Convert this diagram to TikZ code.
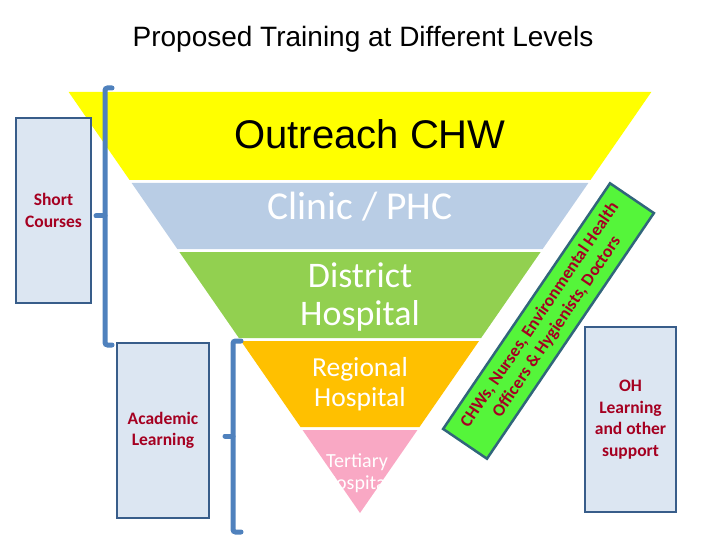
\documentclass[tikz,border=0pt]{standalone}
\usepackage{fontspec}
\setmainfont{Liberation Sans}
\newfontfamily\calib{Carlito}
\definecolor{yel}{HTML}{FFFF00}
\definecolor{bandblue}{HTML}{B9CDE5}
\definecolor{bandgreen}{HTML}{92D050}
\definecolor{bandorange}{HTML}{FFC000}
\definecolor{bandpink}{HTML}{F9A8C4}
\definecolor{brk}{HTML}{4F81BD}
\definecolor{boxfill}{HTML}{DCE6F2}
\definecolor{boxline}{HTML}{385D8A}
\definecolor{txtred}{HTML}{A50021}
\definecolor{limegreen}{HTML}{55F53A}
\definecolor{tealline}{HTML}{31657B}
\newcommand{\bandpath}[3]{%
  \fill[#3] ({360-0.692*(513-#1)},#1) -- ({360+0.692*(513-#1)},#1) --
    ({360+0.692*(513-#2)},#2) -- ({360-0.692*(513-#2)},#2) -- cycle;}
\tikzset{
  sidebox/.style={draw=boxline, line width=2.5pt, fill=boxfill, inner sep=0pt,
    text=txtred, font=\calib\bfseries\fontsize{17.5}{21.5}\selectfont, align=center},
  bracket/.style={draw=brk, line width=5pt, rounded corners=2.5pt, line cap=round},
  bandtext/.style={text=white, align=center},
}
\begin{document}
\begin{tikzpicture}[x=1pt,y=-1pt]
\path[use as bounding box] (0,0) rectangle (720,540);
% title
\node[font=\fontsize{28}{32}\selectfont] (title) at (363,39) {Proposed Training at Different Levels};
% pyramid bands
\bandpath{92}{180}{yel}
\bandpath{183}{249}{bandblue}
\bandpath{252}{338}{bandgreen}
\bandpath{341}{427}{bandorange}
\fill[bandpink] ({360-0.692*83},430) -- ({360+0.692*83},430) -- (360,513) -- cycle;
% band texts
\node[font=\fontsize{40}{44}\selectfont] (outreach) at (370,134) {Outreach CHW};
\node[bandtext, font=\calib\fontsize{39.5}{42}\selectfont] (clinic) at (360,207) {Clinic / PHC};
\node[bandtext, font=\calib\fontsize{36}{38}\selectfont] (district) at (360,297) {District\\Hospital};
\node[bandtext, font=\calib\fontsize{27.5}{29.5}\selectfont] (regional) at (360,384) {Regional\\Hospital};
\node[bandtext, font=\calib\fontsize{20}{22}\selectfont] (tertiary) at (357,473) {Tertiary\\Hospital};
% side boxes
\node[sidebox, minimum width=75pt, minimum height=185pt] (short) at (53.5,210.5) {Short\\Courses};
\node[sidebox, minimum width=92pt, minimum height=175pt, font=\calib\bfseries\fontsize{17.5}{20.5}\selectfont] (academic) at (163,430.5) {Academic\\Learning};
\node[sidebox, minimum width=91pt, minimum height=185pt] (oh) at (630.5,419.5) {OH\\Learning\\and other\\support};
% rotated green box
\node[draw=tealline, line width=2.5pt, fill=limegreen, rotate=55.8,
  minimum width=297pt, minimum height=53pt, inner sep=0pt, align=center,
  text=txtred, font=\calib\bfseries\fontsize{17.5}{20.5}\selectfont] (staff) at (548.5,321)
  {CHWs, Nurses, Environmental Health\\Officers \& Hygienists, Doctors};
% brackets
\draw[bracket] (112,88) -- (105,88) -- (105,345) -- (112,345);
\draw[bracket, rounded corners=0pt] (105,216) -- (96,216);
\draw[bracket] (241,341) -- (233,341) -- (233,532) -- (241,532);
\draw[bracket, rounded corners=0pt] (233,436) -- (225,436);
\end{tikzpicture}
\end{document}
